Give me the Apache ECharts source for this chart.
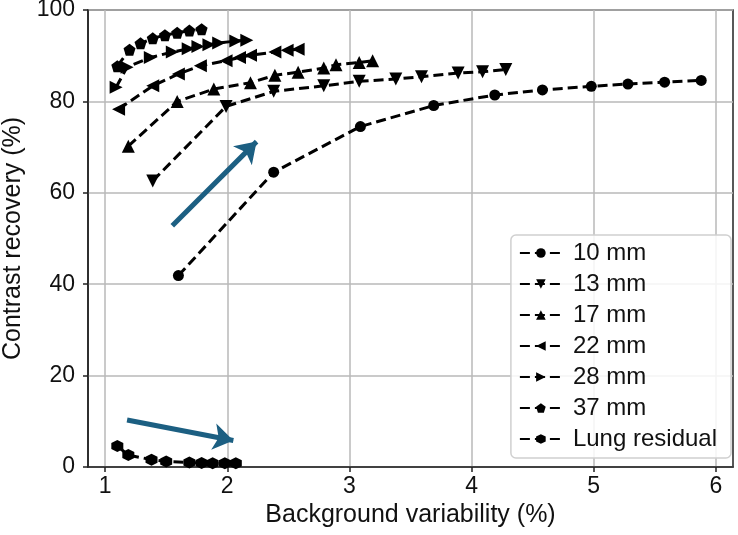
<!DOCTYPE html>
<html>
<head>
<meta charset="utf-8">
<script src="https://cdn.jsdelivr.net/npm/echarts@6/dist/echarts.min.js"></script>
<style>html,body{margin:0;padding:0;background:#fff}#c{width:738px;height:535px}</style>
</head>
<body>
<div id="c"></div>
<script>
// ---- data ----
const seriesNames = ['10 mm', '13 mm', '17 mm', '22 mm', '28 mm', '37 mm', 'Lung residual'];
const x10 = [1.6, 2.38, 3.09, 3.69, 4.19, 4.58, 4.98, 5.28, 5.58, 5.88];
const y10 = [41.9, 64.5, 74.5, 79.1, 81.4, 82.5, 83.3, 83.8, 84.2, 84.6];
const x13 = [1.39, 1.99, 2.38, 2.79, 3.08, 3.38, 3.59, 3.89, 4.09, 4.28];
const y13 = [62.6, 78.9, 82.2, 83.4, 84.4, 84.9, 85.4, 86.2, 86.5, 87.0];
const x17 = [1.19, 1.59, 1.89, 2.19, 2.39, 2.58, 2.79, 2.89, 3.08, 3.19];
const y17 = [70.2, 80.0, 82.7, 84.1, 85.7, 86.4, 87.3, 88.0, 88.5, 88.9];
const x22 = [1.11, 1.39, 1.6, 1.78, 1.99, 2.1, 2.19, 2.39, 2.49, 2.58];
const y22 = [78.3, 83.4, 86.0, 87.8, 88.9, 89.6, 90.1, 90.8, 91.2, 91.4];
const x28 = [1.09, 1.18, 1.37, 1.55, 1.68, 1.76, 1.85, 1.93, 2.07, 2.16];
const y28 = [83.1, 87.5, 89.6, 90.8, 91.5, 92.0, 92.4, 92.8, 93.2, 93.4];
const x37 = [1.1, 1.2, 1.29, 1.39, 1.49, 1.59, 1.69, 1.79];
const y37 = [87.7, 91.3, 92.7, 93.8, 94.5, 95.0, 95.5, 95.8];
const xLung = [1.1, 1.19, 1.38, 1.5, 1.69, 1.79, 1.88, 1.98, 2.07];
const yLung = [4.6, 2.6, 1.6, 1.2, 1.0, 0.9, 0.8, 0.8, 0.8];
// annotation arrows: [start, end] in data units
const arrowUp = [[1.55, 52.8], [2.24, 71.2]];
const arrowDown = [[1.18, 10.3], [2.05, 5.8]];
const xTicks = [1, 2, 3, 4, 5, 6];

// ---- styling ----
const FONT = '"Liberation Sans", Arial, sans-serif';
const pentagon = 'path://M0,-1 L0.951,-0.309 L0.588,0.809 L-0.588,0.809 L-0.951,-0.309 Z';
const hexagon = 'path://M0,-1 L0.866,-0.5 L0.866,0.5 L0,1 L-0.866,0.5 L-0.866,-0.5 Z';
const markers = [
  {symbol: 'circle', rot: 0, size: 11},
  {symbol: 'triangle', rot: 180, size: 13},
  {symbol: 'triangle', rot: 0, size: 13},
  {symbol: 'triangle', rot: 90, size: 13},
  {symbol: 'triangle', rot: -90, size: 13},
  {symbol: pentagon, rot: 0, size: 12},
  {symbol: hexagon, rot: 0, size: 12}
];
const xs = [x10, x13, x17, x22, x28, x37, xLung];
const ys = [y10, y13, y17, y22, y28, y37, yLung];

const series = seriesNames.map((name, i) => ({
  name: name,
  type: 'line',
  data: xs[i].map((v, j) => [v, ys[i][j]]),
  symbol: markers[i].symbol,
  symbolRotate: markers[i].rot,
  symbolSize: markers[i].size,
  showAllSymbol: true,
  itemStyle: {color: '#000'},
  lineStyle: {color: '#000', width: 3, type: [10, 5]},
  z: 3,
  animation: false
}));

[arrowUp, arrowDown].forEach(a => {
  series.push({
    type: 'lines',
    coordinateSystem: 'cartesian2d',
    data: [{coords: a}],
    symbol: ['none', 'arrow'],
    symbolSize: 20,
    lineStyle: {color: '#1c5f82', width: 5, opacity: 1},
    z: 4,
    silent: true,
    animation: false
  });
});

const chart = echarts.init(document.getElementById('c'), null, {renderer: 'canvas'});
chart.setOption({
  animation: false,
  backgroundColor: '#fff',
  grid: {left: 88, right: 5, top: 10, bottom: 68, outerBoundsMode: 'none', containLabel: false,
         show: true, borderColor: '#222', borderWidth: 1.5, backgroundColor: 'transparent'},
  xAxis: {
    type: 'value', min: 0.86, max: 6.14,
    name: 'Background variability (%)', nameLocation: 'middle', nameGap: 34,
    nameTextStyle: {fontFamily: FONT, fontSize: 25, color: '#111'},
    axisLine: {lineStyle: {color: '#222', width: 1.5}},
    axisTick: {show: true, length: 5, lineStyle: {color: '#222', width: 1.5}, customValues: xTicks},
    axisLabel: {fontFamily: FONT, fontSize: 23, color: '#111', margin: 8, customValues: xTicks},
    splitLine: {show: true, lineStyle: {color: '#b8b8b8', width: 1.5}}
  },
  yAxis: {
    type: 'value', min: 0, max: 100, interval: 20,
    name: 'Contrast recovery (%)', nameLocation: 'middle', nameGap: 62, nameRotate: 90,
    nameTextStyle: {fontFamily: FONT, fontSize: 25, color: '#111'},
    axisLine: {show: true, lineStyle: {color: '#222', width: 1.5}},
    axisTick: {show: true, length: 5, lineStyle: {color: '#222', width: 1.5}},
    axisLabel: {fontFamily: FONT, fontSize: 23, color: '#111', margin: 13},
    splitLine: {show: true, lineStyle: {color: '#b8b8b8', width: 1.5}}
  },
  legend: {
    data: seriesNames,
    orient: 'vertical',
    right: 7, top: 235,
    itemWidth: 42, itemHeight: 12, itemGap: 7,
    padding: [6, 14, 7, 8],
    backgroundColor: 'rgba(255,255,255,0.85)',
    borderColor: '#d0d0d0', borderWidth: 1.5, borderRadius: 5,
    textStyle: {fontFamily: FONT, fontSize: 24, color: '#111', padding: [0, 0, 0, 6]}
  },
  series: series
});
</script>
</body>
</html>
